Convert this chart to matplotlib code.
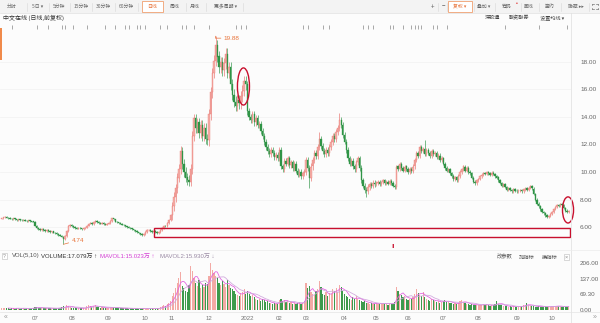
import numpy as np
import pandas as pd
import matplotlib
matplotlib.use("Agg")
import matplotlib.pyplot as plt
from matplotlib.patches import Rectangle, Ellipse
from matplotlib.lines import Line2D
from matplotlib.transforms import blended_transform_factory

CJK = ['Noto Sans CJK SC', 'DejaVu Sans']
NUM = ['Liberation Sans', 'Noto Sans CJK SC', 'DejaVu Sans']
plt.rcParams['font.family'] = CJK

# ---------------- data: 中文在线 daily bars, one list per month ----------------
month_labels = ["", "07", "08", "09", "10", "11", "12", "2022",
                "02", "03", "04", "05", "06", "07", "08", "09", "10"]

close_2021_06 = [6.62, 6.70, 6.74, 6.68, 6.66, 6.60, 6.58, 6.62, 6.55, 6.52, 6.56, 6.50, 6.48, 6.52, 6.46, 6.44, 6.48, 6.42, 6.40, 6.38]
close_2021_07 = [6.10, 5.92, 5.85, 5.80, 5.86, 5.78, 5.72, 5.76, 5.70, 5.64, 5.68, 5.60, 5.55, 5.50, 5.42, 5.38, 5.30, 5.10, 5.36, 5.70, 6.05, 6.18]
close_2021_08 = [6.05, 5.98, 5.92, 5.88, 5.95, 5.90, 5.85, 5.92, 5.96, 6.10, 6.25, 6.30, 6.20, 6.35, 6.45, 6.38, 6.30, 6.25, 6.32, 6.22, 6.18, 6.24]
close_2021_09 = [6.30, 6.45, 6.62, 6.55, 6.40, 6.35, 6.30, 6.24, 6.18, 6.12, 6.05, 6.00, 5.95, 5.90, 5.82, 5.76, 5.70, 5.62, 5.55, 5.48, 5.42, 5.50]
close_2021_10 = [5.62, 5.75, 5.80, 5.72, 5.66, 5.70, 5.62, 5.58, 5.65, 5.80, 5.95, 6.10, 6.05, 6.30, 6.50, 6.85]
close_2021_11 = [7.50, 8.20, 8.80, 9.60, 10.20, 11.50, 10.60, 10.00, 9.60, 9.40, 9.30, 10.20, 12.60, 13.90, 13.20, 13.60, 12.80, 13.40, 12.60, 13.20, 12.40, 12.30]
close_2021_12 = [14.20, 15.80, 17.20, 18.10, 19.20, 18.40, 17.60, 18.00, 17.40, 17.90, 18.60, 17.20, 17.60, 16.40, 15.60, 15.10, 14.80, 15.20, 15.00, 15.50, 15.90, 16.60, 16.40]
close_2022_01 = [14.40, 14.00, 13.80, 14.20, 13.60, 13.90, 13.40, 13.50, 13.00, 12.60, 12.20, 11.80, 11.50, 11.30, 11.60, 11.40, 11.10, 11.20, 11.00]
close_2022_02 = [11.60, 10.40, 10.20, 10.80, 10.60, 11.00, 10.50, 10.70, 10.30, 10.60, 10.10, 9.80, 10.00, 9.70, 9.90, 10.00]
close_2022_03 = [10.90, 10.30, 9.60, 10.40, 10.90, 11.40, 11.20, 11.80, 12.40, 11.90, 11.50, 11.30, 11.60, 11.40, 11.80, 12.20, 12.60, 12.40, 12.90, 13.20, 13.80, 13.40, 12.70]
close_2022_04 = [12.20, 11.60, 11.00, 10.60, 10.80, 10.40, 10.20, 10.70, 11.00, 10.30, 9.40, 9.00, 8.70, 8.60, 8.90, 9.10, 9.00, 9.20, 9.10]
close_2022_05 = [9.20, 9.30, 9.10, 9.25, 9.40, 9.20, 9.30, 9.15, 9.35, 9.20, 9.00, 8.90, 10.40, 10.20, 10.60, 10.30, 10.10, 10.40, 10.20]
close_2022_06 = [10.00, 10.20, 10.10, 10.40, 10.90, 11.40, 11.20, 11.80, 11.50, 11.70, 11.30, 11.60, 11.40, 11.20, 11.50, 11.30, 11.40, 11.10, 11.20, 10.90, 11.00]
close_2022_07 = [10.60, 10.30, 10.10, 10.20, 9.90, 9.70, 9.50, 9.60, 9.40, 9.70, 10.00, 10.20, 10.40, 10.10, 10.30, 10.00, 9.90, 9.60, 9.30, 9.20, 9.40]
close_2022_08 = [9.50, 9.70, 9.80, 9.90, 9.85, 10.00, 9.90, 9.80, 9.95, 9.85, 9.70, 9.60, 9.40, 9.20, 9.00, 9.10, 8.90, 8.70, 8.80, 8.70, 8.60, 8.75, 8.65]
close_2022_09 = [8.60, 8.65, 8.70, 8.60, 8.75, 8.80, 8.70, 8.85, 8.95, 8.80, 8.40, 8.00, 7.70, 7.50, 7.30, 7.10, 7.00, 6.85, 6.75, 6.80, 6.95]
close_2022_10 = [7.10, 7.30, 7.45, 7.60, 7.55, 7.70, 7.60, 7.40, 7.20, 7.10, 7.15]

# volume, 万手
vol_2021_06 = [9, 8, 10, 7, 8, 6, 7, 9, 6, 7, 8, 6, 7, 9, 6, 7, 6, 8, 7, 9]
vol_2021_07 = [14, 12, 10, 9, 8, 9, 8, 7, 8, 7, 6, 8, 7, 9, 8, 10, 12, 16, 14, 22, 18, 12]
vol_2021_08 = [10, 9, 8, 7, 8, 7, 8, 9, 10, 16, 20, 18, 14, 17, 22, 15, 12, 10, 12, 9, 8, 10]
vol_2021_09 = [9, 11, 14, 12, 9, 8, 8, 7, 8, 7, 8, 7, 6, 8, 7, 6, 7, 8, 6, 7, 8, 7]
vol_2021_10 = [6, 7, 6, 6, 7, 6, 6, 7, 8, 12, 16, 20, 18, 28, 32, 40]
vol_2021_11 = [60, 75, 95, 120, 140, 165, 105, 95, 85, 80, 110, 195, 170, 140, 120, 105, 130, 95, 110, 100, 120, 115]
vol_2021_12 = [150, 206, 175, 160, 150, 140, 120, 110, 125, 115, 100, 130, 110, 95, 90, 85, 70, 65, 60, 75, 80, 90, 70]
vol_2022_01 = [85, 70, 60, 65, 55, 50, 45, 50, 40, 48, 42, 35, 38, 30, 32, 28, 30, 25, 28]
vol_2022_02 = [45, 50, 38, 42, 35, 40, 30, 34, 28, 30, 26, 30, 35, 28, 32, 40]
vol_2022_03 = [120, 95, 105, 80, 70, 65, 85, 90, 125, 100, 70, 65, 80, 60, 75, 70, 90, 85, 95, 80, 110, 100, 85]
vol_2022_04 = [70, 60, 55, 50, 45, 55, 48, 60, 50, 45, 40, 35, 38, 30, 32, 28, 30, 26, 28]
vol_2022_05 = [30, 28, 25, 32, 30, 26, 28, 24, 30, 26, 28, 35, 100, 85, 70, 65, 55, 60, 50]
vol_2022_06 = [45, 50, 48, 55, 70, 90, 75, 65, 60, 80, 55, 50, 45, 40, 48, 42, 38, 35, 40, 32, 34]
vol_2022_07 = [40, 45, 35, 38, 32, 30, 28, 30, 26, 32, 38, 42, 36, 30, 28, 26, 24, 25, 22, 20, 24]
vol_2022_08 = [22, 24, 20, 26, 22, 25, 20, 18, 22, 20, 26, 40, 28, 24, 20, 18, 16, 18, 15, 17, 14, 16, 15]
vol_2022_09 = [14, 15, 16, 18, 20, 22, 30, 24, 18, 16, 18, 15, 14, 16, 15, 13, 14, 16, 15, 14, 13]
vol_2022_10 = [18.2, 16.2, 18.4, 17.1, 16.0, 16.485, 14.5, 13.8, 15.0, 14.736, 17.079]

# typical shadow length per month (元)
wick_by_month = [0.10, 0.12, 0.12, 0.10, 0.15, 0.70, 0.80, 0.45, 0.40,
                 0.45, 0.40, 0.25, 0.30, 0.25, 0.20, 0.20, 0.15]

# intraday extremes that stand out (bar index -> price)
high_marks = {107: 11.90, 128: 19.88, 190: 12.90, 202: 14.30, 253: 12.30}
low_marks = {37: 4.74, 184: 8.80, 218: 8.20}
first_open = 6.60

# event flags along the top of the price pane (bar index)
event_days = [6, 21, 28, 36, 38, 43, 51, 62, 68, 74, 76, 81, 83, 86, 95, 99, 108, 110,
              115, 124, 140, 143, 146, 180, 183, 192, 196, 216, 219, 222, 232, 234,
              240, 245, 247, 249, 251, 258, 260, 266, 301, 321, 338]

close_by_month = [close_2021_06, close_2021_07, close_2021_08, close_2021_09, close_2021_10,
                  close_2021_11, close_2021_12, close_2022_01, close_2022_02, close_2022_03,
                  close_2022_04, close_2022_05, close_2022_06, close_2022_07, close_2022_08,
                  close_2022_09, close_2022_10]
vol_by_month = [vol_2021_06, vol_2021_07, vol_2021_08, vol_2021_09, vol_2021_10,
                vol_2021_11, vol_2021_12, vol_2022_01, vol_2022_02, vol_2022_03,
                vol_2022_04, vol_2022_05, vol_2022_06, vol_2022_07, vol_2022_08,
                vol_2022_09, vol_2022_10]

# ---------------- assemble OHLC ----------------
close = np.concatenate([np.array(m, float) for m in close_by_month])
vol = np.concatenate([np.array(m, float) for m in vol_by_month])
wick = np.concatenate([[w] * len(m) for w, m in zip(wick_by_month, close_by_month)])
assert len(close) == len(vol)
n = len(close)
idx = np.arange(n)
open_ = np.concatenate([[first_open], close[:-1]])
high = np.maximum(open_, close) + wick / 2
low = np.minimum(open_, close) - wick / 2
for k, v in high_marks.items():
    high[k] = v
for k, v in low_marks.items():
    low[k] = v
up = close >= open_
month_start = np.concatenate([[0], np.cumsum([len(m) for m in close_by_month])[:-1]])

vol_s = pd.Series(vol)
ma5 = vol_s.rolling(5).mean()
ma10 = vol_s.rolling(10).mean()

# ---------------- figure ----------------
W, H = 600, 323
BG = '#fcfcfc'
fig = plt.figure(figsize=(W / 100, H / 100), dpi=100, facecolor=BG)


def frac_rect(x0, y0, x1, y1):
    return [x0 / W, 1 - y1 / H, (x1 - x0) / W, (y1 - y0) / H]


def ftext(x, y, s, **kw):
    kw.setdefault('va', 'center')
    kw.setdefault('ha', 'left')
    return fig.text(x / W, 1 - y / H, s, **kw)


def fbox(x0, y0, x1, y1, **kw):
    fig.patches.append(Rectangle((x0 / W, 1 - y1 / H), (x1 - x0) / W, (y1 - y0) / H,
                                 transform=fig.transFigure, **kw))


def fline(x0, y0, x1, y1, **kw):
    fig.add_artist(Line2D([x0 / W, x1 / W], [1 - y0 / H, 1 - y1 / H], **kw))


UP_FACE, UP_EDGE = '#f5b0ab', '#e8716b'
DOWN = '#2f9446'
VOL_UP, VOL_DOWN = '#f3aaa5', '#3d9a4c'
ORANGE = '#e8743b'
RED = '#c8102e'
GRAY = '#666666'

# pixel calibration of the panes
PX0, PXD = 1.54, 1.673          # x pixel of bar 0, pixels per bar
X_RIGHT = 571
xlim = ((0 - PX0) / PXD, (X_RIGHT - PX0) / PXD)

# ---- price pane ----
axp = fig.add_axes(frac_rect(0, 22, X_RIGHT, 248))
axp.set_facecolor(BG)
axp.set_xlim(*xlim)
axp.set_ylim(6 - 21 / 13.75, 6 + 205 / 13.75)
for s in axp.spines.values():
    s.set_visible(False)
axp.yaxis.tick_right()
ticks = np.arange(6, 19, 2)
axp.set_yticks(ticks)
axp.set_yticklabels([f"{t:.2f}" for t in ticks], fontfamily=NUM)
axp.tick_params(axis='y', length=0, pad=6.5, labelsize=4.6, labelcolor=GRAY)
axp.set_xticks([])
for t in ticks:
    axp.axhline(t, color='#f1f1f1', lw=0.5, zorder=0)

wick_col = np.where(up, UP_EDGE, DOWN)
axp.vlines(idx, low, high, colors=wick_col, lw=0.45, zorder=2)
body = np.maximum(np.abs(close - open_), 0.03)
axp.bar(idx, body, bottom=np.minimum(open_, close), width=0.78,
        color=np.where(up, UP_FACE, DOWN), edgecolor=wick_col, linewidth=0.25, zorder=3)

# high / low labels
hi = int(np.argmax(high))
lo = int(np.argmin(low))
axp.annotate(f"{high[hi]:.2f}", xy=(hi, high[hi]), xytext=(8, -2), textcoords='offset pixels',
             color=ORANGE, fontsize=4.6, fontfamily=NUM, va='center', ha='left',
             arrowprops=dict(arrowstyle='-', color=ORANGE, lw=0.5, shrinkA=0, shrinkB=0,
                             connectionstyle='angle,angleA=0,angleB=80,rad=0'))
axp.annotate(f"{low[lo]:.2f}", xy=(lo, low[lo]), xytext=(8, 4), textcoords='offset pixels',
             color=ORANGE, fontsize=4.6, fontfamily=NUM, va='center', ha='left',
             arrowprops=dict(arrowstyle='-', color=ORANGE, lw=0.5, shrinkA=0, shrinkB=0))

# event flags
tr = blended_transform_factory(axp.transData, axp.transAxes)
axp.plot(event_days, [0.977] * len(event_days), ls='none', marker='|', ms=2.6,
         mew=0.6, color='#9a9a9a', transform=tr, clip_on=False)

# red highlight marks
axp.add_patch(Rectangle((91.1, 5.27), 248.7, 0.66, fill=False, ec=RED, lw=1.0,
                        zorder=5, clip_on=False))
axp.add_patch(Ellipse((144.6, 16.22), 7.2, 2.7, fill=False, ec=RED, lw=1.0, zorder=5))
axp.add_patch(Ellipse((338.6, 7.24), 6.6, 1.9, fill=False, ec=RED, lw=1.0, zorder=5,
                      clip_on=False))
axp.text(234, 4.62, "ı", color=RED, fontsize=5, ha='center', va='center', fontweight='bold')

# ---- volume pane ----
axv = fig.add_axes(frac_rect(0, 250, X_RIGHT, 310))
axv.set_facecolor(BG)
axv.set_xlim(*xlim)
axv.set_ylim(0, 206 * 60 / 47)
for s in axv.spines.values():
    s.set_visible(False)
axv.bar(idx, vol, width=0.72, color=np.where(up, VOL_UP, VOL_DOWN), linewidth=0, zorder=2)
axv.plot(idx, ma5, color='#e25ee0', lw=0.55, zorder=3)
axv.plot(idx, ma10, color='#cfa6dc', lw=0.55, zorder=3)
axv.yaxis.tick_right()
vt = [0, 69.3, 137, 206]
axv.set_yticks(vt)
axv.set_yticklabels([f"{v:.2f}" for v in vt], fontfamily=NUM)
axv.tick_params(axis='y', length=0, pad=6, labelsize=4.5, labelcolor=GRAY)
axv.set_xticks(month_start[1:])
axv.set_xticklabels(month_labels[1:], fontfamily=NUM)
axv.tick_params(axis='x', length=0, pad=4.5, labelsize=4.4, labelcolor='#777777')

# volume header
arrow = lambda s: '↑' if s.iloc[-1] >= s.iloc[-2] else '↓'
ftext(3, 256, "?", fontsize=3.6, color='#888', fontfamily=NUM,
      bbox=dict(boxstyle='square,pad=0.15', fc='white', ec='#bbb', lw=0.4))
ftext(12, 256, "VOL(5,10)", fontsize=4.3, color='#555', fontfamily=NUM)
ftext(41, 256, f"VOLUME:{vol[-1]:.3f}万 {arrow(vol_s)}", fontsize=4.3, color='#333', fontfamily=NUM)
ftext(100, 256, f"MAVOL1:{ma5.iloc[-1]:.3f}万 {arrow(ma5)}", fontsize=4.3, color='#d43fd4', fontfamily=NUM)
ftext(160, 256, f"MAVOL2:{ma10.iloc[-1]:.3f}万 {arrow(ma10)}", fontsize=4.3, color='#9a8aa4', fontfamily=NUM)
for x, s in [(505, "改参数"), (527, "加指标"), (550, "换指标")]:
    ftext(x, 257, s, fontsize=3.8, color='#555', ha='center')
ftext(566.5, 257, "×", fontsize=4, color='#888', ha='center', fontfamily=NUM,
      bbox=dict(boxstyle='square,pad=0.1', fc='white', ec='#bbb', lw=0.4))

# ---- frame lines ----
fline(X_RIGHT, 13, X_RIGHT, 323, color='#e4e4e4', lw=0.6)
fline(0, 250, 600, 250, color='#ececec', lw=0.5)
fline(0, 312, 600, 312, color='#e4e4e4', lw=0.5)
fbox(0, 28, 1.6, 60, fc='#f08a4b', ec='none')
ftext(6, 318, "«", fontsize=5, color='#999', ha='center', fontfamily=NUM)
ftext(595, 318, "»", fontsize=5, color='#999', ha='center', fontfamily=NUM)

# ---- toolbar ----
fbox(0, 0, 600, 13, fc='#f3f3f3', ec='none')
fline(0, 13, 600, 13, color='#e0e0e0', lw=0.5)
fbox(142, 1.5, 163, 11.5, fc='white', ec='#f0a070', lw=0.6)
fbox(448, 1.5, 472, 11.5, fc='white', ec='#f0a070', lw=0.6)
left_items = [(12, "分时"), (38, "5日 ▾"), (59, "5分钟"), (81, "15分钟"), (103, "30分钟"),
              (126, "60分钟"), (152, "日线"), (175, "周线"), (195, "月线"), (226, "更多周期 ▾")]
for x, s in left_items:
    ftext(x, 6.5, s, fontsize=3.5, color=ORANGE if s == "日线" else '#666', ha='center')
for x in [27, 49, 70, 92, 115, 138, 186, 206, 243]:
    fline(x, 2.5, x, 10.5, color='#dddddd', lw=0.5)
right_items = [(433, "+"), (443, "−"), (460, "复权 ▾"), (484, "叠加 ▾"), (507, "筹码"),
               (529, "画线"), (550, "签约"), (576, "隐藏 ▸▸")]
for x, s in right_items:
    ftext(x, 6.5, s, fontsize=3.5 if len(s) > 1 else 4.5,
          color=ORANGE if s.startswith("复权") else '#666', ha='center')
ftext(517, 3.2, "•", fontsize=3.6, color='#e02020', ha='center', fontfamily=NUM)
# full-screen toggle: four corner brackets
for sx in (-1, 1):
    for sy in (-1, 1):
        cx, cy = 595 + 2.6 * sx, 6.5 + 2.6 * sy
        fline(cx, cy, cx - 1.4 * sx, cy, color='#777', lw=0.5)
        fline(cx, cy, cx, cy - 1.4 * sy, color='#777', lw=0.5)
for x in [438, 447, 474, 495, 521, 539, 561, 589]:
    fline(x, 2.5, x, 10.5, color='#dddddd', lw=0.5)

# ---- title row ----
ftext(3, 17.5, "中文在线 (日线,前复权)", fontsize=4.3, color='#333')
for x, s in [(493, "深股通"), (519, "融资融券"), (552, "设置均线 ▾")]:
    ftext(x, 17.5, s, fontsize=3.7, color='#444', ha='center')

fig.savefig("out.png", dpi=100, facecolor=BG)
